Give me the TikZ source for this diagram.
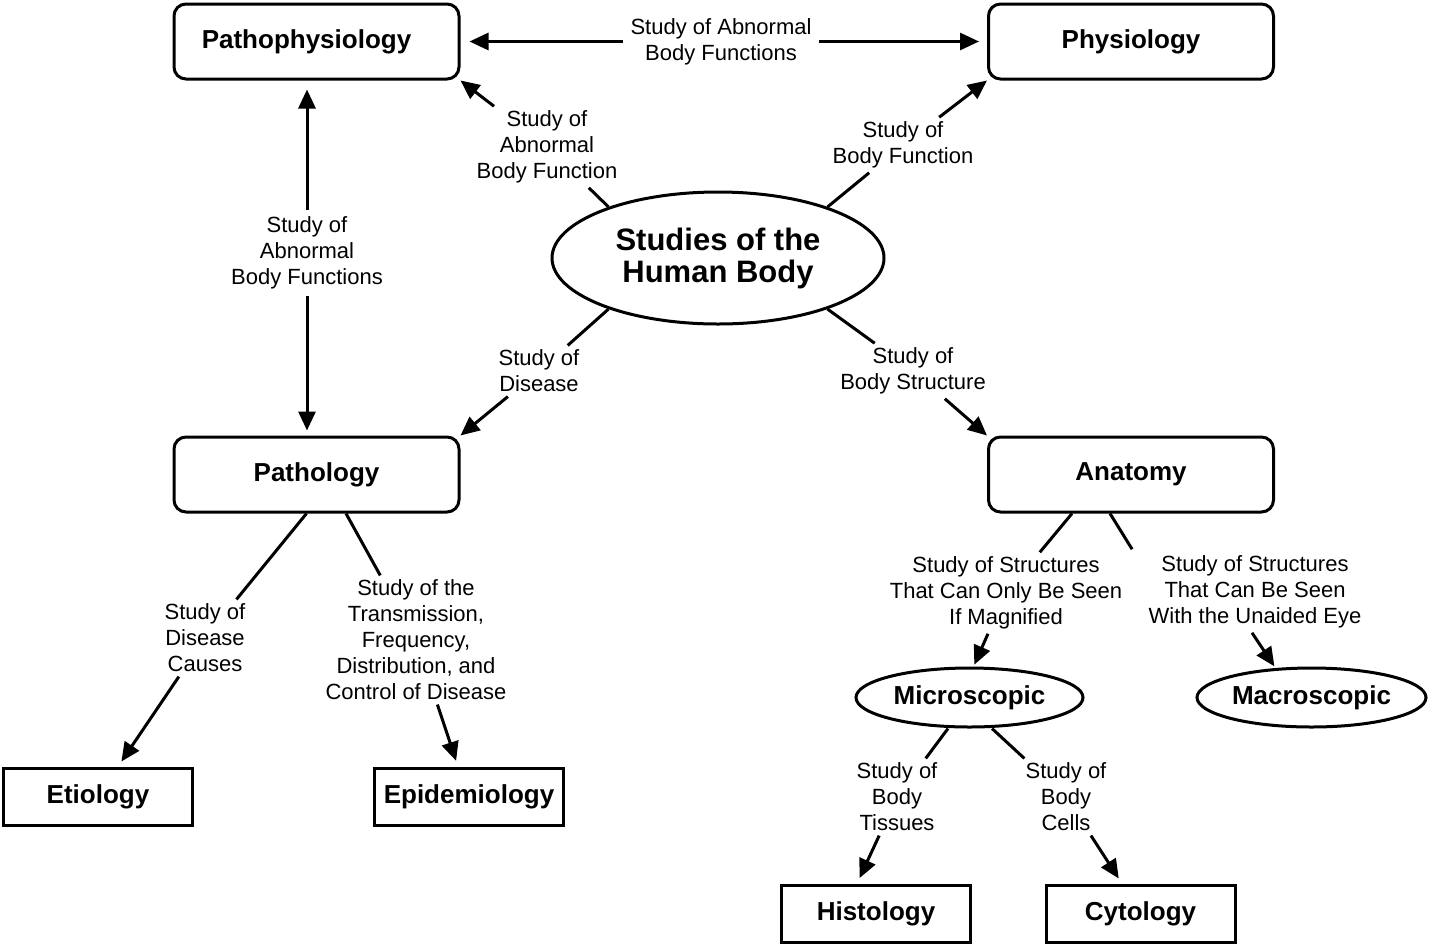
\documentclass[tikz,border=0pt]{standalone}
\usepackage{fontspec}
\setmainfont{Liberation Sans}
\usetikzlibrary{arrows.meta,shapes.geometric,calc}
\begin{document}
\begin{tikzpicture}[x=1pt,y=-1pt,
  line width=3pt,
  rbox/.style={draw,rounded corners=12pt,minimum width=285pt,minimum height=75pt,inner sep=0pt,font=\fontsize{26}{30}\selectfont\bfseries},
  sbox/.style={draw,minimum width=189pt,minimum height=57pt,inner sep=0pt,font=\fontsize{26}{30}\selectfont\bfseries},
  ell/.style={draw,ellipse,inner sep=0pt,font=\fontsize{26}{30}\selectfont\bfseries},
  lab/.style={align=center,inner sep=3pt,font=\fontsize{22}{26}\selectfont},
  arr/.style={-{Triangle[length=19pt,width=17pt]}},
  conn/.style={line cap=butt}
]
\fill[white] (0,0) rectangle (1429,946);
\useasboundingbox (0,0) rectangle (1429,946);

% main nodes
\node[rbox] (patho) at (316.5,41.5) {\hspace*{-20pt}Pathophysiology};
\node[rbox] (phys) at (1131,41.5) {Physiology};
\node[rbox] (path) at (316.5,474.5) {Pathology};
\node[rbox] (anat) at (1131,474.5) {Anatomy};
\node[ell,minimum width=332pt,minimum height=132pt,align=center,font=\fontsize{31}{32}\selectfont\bfseries] (ctr) at (718,258) {Studies of the\\Human Body};
\node[sbox] (etio) at (98,796.5) {Etiology};
\node[sbox] (epid) at (469,796.5) {Epidemiology};
\node[ell,minimum width=227pt,minimum height=59pt] (micro) at (969.5,697.5) {Microscopic};
\node[ell,minimum width=229pt,minimum height=59pt] (macro) at (1311.5,697.5) {Macroscopic};
\node[sbox] (hist) at (876,913.5) {Histology};
\node[sbox] (cyto) at (1140.5,913.5) {Cytology};

% labels
\node[lab,inner sep=6pt] (ltop) at (721,41.5) {Study of Abnormal\\Body Functions};
\node[lab] (lpp) at (547,147) {Study of\\Abnormal\\Body Function};
\node[lab] (lph) at (903,145) {Study of\\Body Function};
\node[lab,inner sep=5pt] (lvert) at (307,253) {Study of\\Abnormal\\Body Functions};
\node[lab] (ldis) at (539,371) {Study of\\Disease};
\node[lab] (lstr) at (913,371) {Study of\\Body Structure};
\node[lab] (lcause) at (205,638) {Study of\\Disease\\Causes};
\node[lab] (lepi) at (416,640) {Study of the\\Transmission,\\Frequency,\\Distribution, and\\Control of Disease};
\node[lab] (lmag) at (1006,593) {Study of Structures\\That Can Only Be Seen\\If Magnified};
\node[lab] (leye) at (1255,592) {Study of Structures\\That Can Be Seen\\With the Unaided Eye};
\node[lab] (ltis) at (897,797) {Study of\\Body\\Tissues};
\node[lab] (lcel) at (1066,797) {Study of\\Body\\Cells};

% top connectors
\draw[arr,shorten >=9pt] (ltop.west) -- (patho.east);
\draw[arr,shorten >=8pt] (ltop.east) -- (phys.west);
\draw[arr,shorten >=9pt] (lvert) -- ($(patho.south)+(-9.5,0)$);
\draw[arr,shorten >=5pt] (lvert) -- ($(path.north)+(-9.5,0)$);

% from centre
\draw[conn] (ctr.155) -- (lpp);
\draw[arr] (lpp) -- (patho.south east);
\draw[conn] (ctr.25) -- (lph);
\draw[arr] (lph) -- (phys.south west);
\draw[conn] (ctr.205) -- (ldis);
\draw[arr] (ldis) -- (path.north east);
\draw[conn] (ctr.335) -- (lstr);
\draw[arr] (lstr) -- (anat.north west);

% pathology children
\draw[conn] ($(path.south)+(-10,0)$) -- (lcause);
\draw[arr,shorten >=6pt] (lcause) -- ($(etio.north)+(20,0)$);
\draw[conn] ($(path.south)+(29.5,0)$) -- (lepi);
\draw[arr,shorten >=6pt] (lepi) -- ($(epid.north)+(-11,0)$);

% anatomy children
\draw[conn] ($(anat.south)+(-59,0)$) -- (lmag);
\draw[arr,shorten >=2pt] (lmag) -- ($(micro.north)+(4,0)$);
\draw[conn] ($(anat.south)+(-21,0)$) -- ($(leye.north west)+(-12,-2)$);
\draw[arr,shorten >=2pt] ($(leye.south)+(-3,0)$) -- ($(macro.north)+(-36,1.5)$);

% microscopic children
\draw[conn] ($(micro.south)+(-21.5,0)$) -- (ltis);
\draw[arr,shorten >=6pt] (ltis) -- ($(hist.north)+(-19,0)$);
\draw[conn] ($(micro.south)+(22.5,0)$) -- (lcel);
\draw[arr,shorten >=6pt] (lcel) -- ($(cyto.north)+(-18.5,0)$);
\end{tikzpicture}
\end{document}
